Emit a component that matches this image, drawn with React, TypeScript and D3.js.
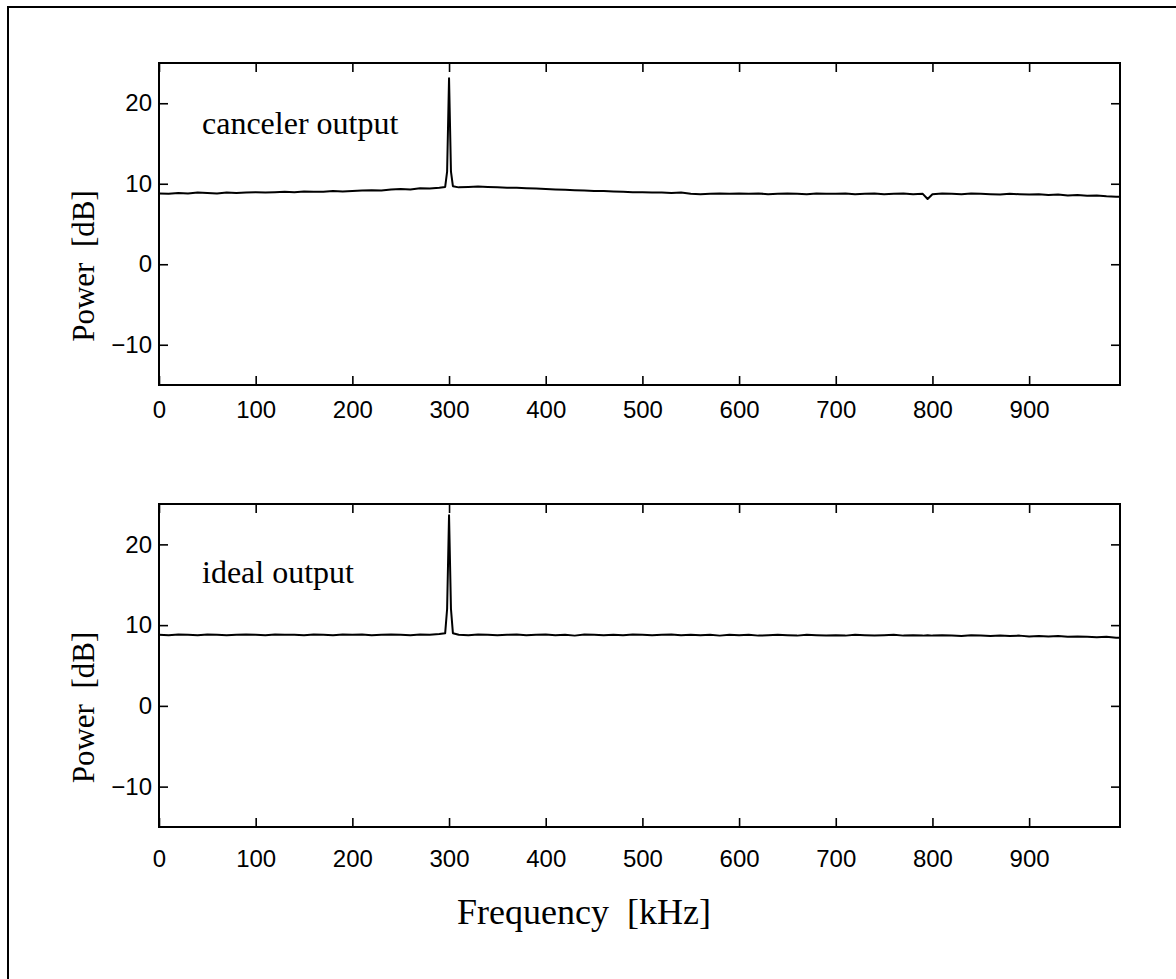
import React, { useRef, useEffect } from 'react'
import * as d3 from 'd3'

const W = 1176
const H = 979

// frequency grid [kHz]
const freq = [
  0, 10, 20, 30, 40, 50, 60, 70, 80, 90,
  100, 110, 120, 130, 140, 150, 160, 170, 180, 190,
  200, 210, 220, 230, 240, 250, 260, 270, 280, 290,
  296, 298, 300, 302, 304,
  310, 320, 330, 340, 350, 360, 370, 380, 390,
  400, 410, 420, 430, 440, 450, 460, 470, 480, 490,
  500, 510, 520, 530, 540, 550, 560, 570, 580, 590,
  600, 610, 620, 630, 640, 650, 660, 670, 680, 690,
  700, 710, 720, 730, 740, 750, 760, 770, 780, 790,
  795,
  800, 810, 820, 830, 840, 850, 860, 870, 880, 890,
  900, 910, 920, 930, 940, 950, 960, 970, 980, 990,
  995,
]

// power [dB]
const canceler = [
  8.8, 8.75, 8.85, 8.8, 8.9, 8.85, 8.8, 8.9, 8.85, 8.9,
  8.95, 8.9, 8.95, 9.0, 8.95, 9.05, 9.0, 9.0, 9.1, 9.05,
  9.1, 9.15, 9.2, 9.15, 9.3, 9.35, 9.3, 9.45, 9.4, 9.5,
  9.6, 11.5, 23.1, 11.5, 9.7,
  9.55, 9.6, 9.65, 9.6, 9.55, 9.5, 9.5, 9.45, 9.4,
  9.35, 9.3, 9.25, 9.2, 9.15, 9.1, 9.1, 9.05, 9.0, 8.95,
  8.95, 8.9, 8.9, 8.85, 8.9, 8.75, 8.7, 8.75, 8.8, 8.75,
  8.8, 8.75, 8.8, 8.7, 8.75, 8.8, 8.75, 8.7, 8.8, 8.75,
  8.75, 8.8, 8.7, 8.75, 8.8, 8.7, 8.75, 8.8, 8.7, 8.75,
  8.1,
  8.7, 8.8, 8.75, 8.7, 8.8, 8.75, 8.7, 8.65, 8.75, 8.7,
  8.65, 8.7, 8.6, 8.65, 8.55, 8.6, 8.5, 8.55, 8.45, 8.4,
  8.4,
]

const ideal = [
  8.8, 8.75, 8.85, 8.8, 8.75, 8.85, 8.8, 8.75, 8.8, 8.85,
  8.8, 8.75, 8.85, 8.8, 8.8, 8.75, 8.85, 8.8, 8.75, 8.85,
  8.8, 8.85, 8.75, 8.8, 8.85, 8.8, 8.75, 8.85, 8.8, 8.9,
  9.0, 12.0, 23.6, 12.0, 9.0,
  8.8, 8.75, 8.85, 8.8, 8.75, 8.8, 8.85, 8.75, 8.8,
  8.85, 8.75, 8.8, 8.7, 8.85, 8.8, 8.75, 8.8, 8.75, 8.85,
  8.8, 8.75, 8.8, 8.85, 8.75, 8.8, 8.75, 8.8, 8.7, 8.8,
  8.75, 8.8, 8.7, 8.75, 8.8, 8.75, 8.7, 8.8, 8.75, 8.7,
  8.75, 8.7, 8.8, 8.75, 8.7, 8.75, 8.8, 8.7, 8.75, 8.7,
  8.75,
  8.7, 8.75, 8.7, 8.65, 8.75, 8.7, 8.65, 8.7, 8.65, 8.7,
  8.6, 8.65, 8.6, 8.65, 8.55, 8.6, 8.55, 8.5, 8.55, 8.45,
  8.45,
]

const xTicks = [0, 100, 200, 300, 400, 500, 600, 700, 800, 900]
const yTicks = [-10, 0, 10, 20]

const panels = [
  { top: 63, bottom: 385, values: canceler, label: 'canceler output', labelY: 134, pad: 7 },
  { top: 504, bottom: 827, values: ideal, label: 'ideal output', labelY: 583, pad: 14 },
]

const left = 159
const right = 1120
const serif = '"Liberation Serif", "Times New Roman", serif'
const sans = '"Liberation Sans", Arial, sans-serif'

function App() {
  const ref = useRef<SVGSVGElement>(null)

  useEffect(() => {
    const svg = d3.select(ref.current)
    svg.selectAll('*').remove()

    // outer frame (right/bottom edges fall outside the picture)
    svg.append('rect')
      .attr('x', 8).attr('y', 7)
      .attr('width', W + 20).attr('height', H + 20)
      .attr('fill', 'none').attr('stroke', '#000').attr('stroke-width', 2)

    const x = d3.scaleLinear().domain([0, 994]).range([left, right])

    panels.forEach(p => {
      const y = d3.scaleLinear().domain([-15, 25]).range([p.bottom, p.top])
      const g = svg.append('g')

      const tk = 9
      const styleAxis = (sel: any) => {
        sel.select('.domain').remove()
        sel.selectAll('.tick line').attr('stroke', '#000').attr('stroke-width', 1.6)
      }

      g.append('g')
        .attr('transform', `translate(0,${p.bottom})`)
        .call(d3.axisBottom(x).tickValues(xTicks).tickSize(-tk).tickPadding(tk + p.pad).tickFormat(d3.format('d')))
        .call(styleAxis)
        .call((s: any) => s.selectAll('text').attr('font-family', sans).attr('font-size', 24).attr('fill', '#000'))

      g.append('g')
        .attr('transform', `translate(0,${p.top})`)
        .call(d3.axisTop(x).tickValues(xTicks).tickSize(-tk).tickFormat(() => ''))
        .call(styleAxis)

      g.append('g')
        .attr('transform', `translate(${left},0)`)
        .call(d3.axisLeft(y).tickValues(yTicks).tickSize(-tk).tickPadding(7).tickFormat(d => (d as number) < 0 ? '\u2212' + Math.abs(d as number) : String(d)))
        .call(styleAxis)
        .call((s: any) => s.selectAll('text').attr('font-family', sans).attr('font-size', 24).attr('fill', '#000'))

      g.append('g')
        .attr('transform', `translate(${right},0)`)
        .call(d3.axisRight(y).tickValues(yTicks).tickSize(-tk).tickFormat(() => ''))
        .call(styleAxis)

      g.append('rect')
        .attr('x', left).attr('y', p.top)
        .attr('width', right - left).attr('height', p.bottom - p.top)
        .attr('fill', 'none').attr('stroke', '#000').attr('stroke-width', 2)

      const line = d3.line<number>()
        .x((_, i) => x(freq[i]))
        .y(d => y(d))

      g.append('path')
        .datum(p.values)
        .attr('d', line)
        .attr('fill', 'none')
        .attr('stroke', '#000')
        .attr('stroke-width', 2)
        .attr('stroke-linejoin', 'round')

      g.append('text')
        .attr('x', 202).attr('y', p.labelY)
        .attr('font-family', serif).attr('font-size', 32)
        .text(p.label)

      const cy = (p.top + p.bottom) / 2 + 42
      g.append('text')
        .attr('transform', `translate(94,${cy}) rotate(-90)`)
        .attr('text-anchor', 'middle')
        .attr('font-family', serif).attr('font-size', 31)
        .attr('xml:space', 'preserve')
        .text('Power  [dB]')
    })

    svg.append('text')
      .attr('x', 584).attr('y', 924)
      .attr('text-anchor', 'middle')
      .attr('font-family', serif).attr('font-size', 36)
      .attr('xml:space', 'preserve')
      .text('Frequency  [kHz]')
  }, [])

  return (
    <svg ref={ref} width={W} height={H} style={{ position: 'absolute', left: 0, top: 0, background: '#fff' }} />
  )
}

export default App
